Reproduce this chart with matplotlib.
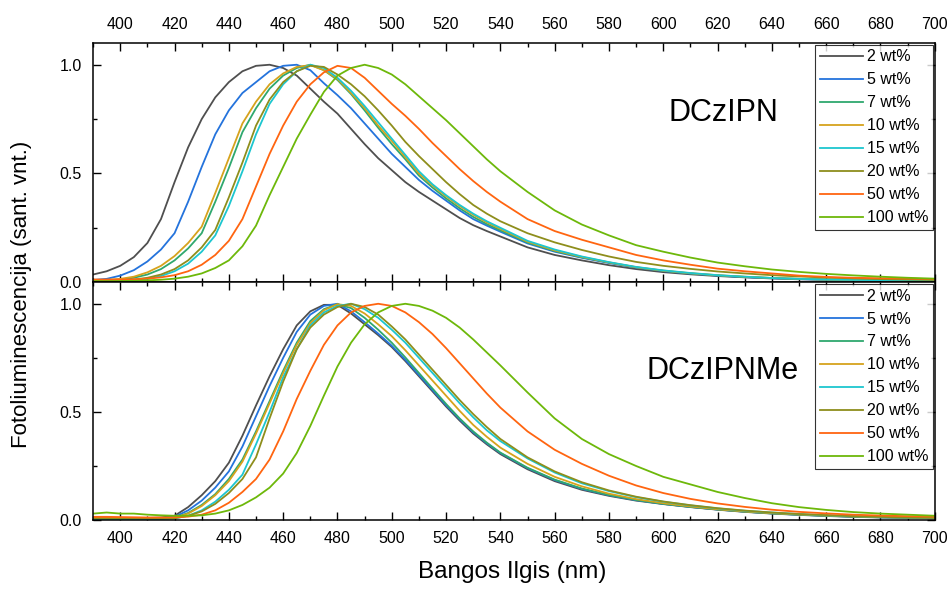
import matplotlib
matplotlib.use("Agg")
import matplotlib.pyplot as plt
from matplotlib.ticker import MultipleLocator, FormatStrFormatter

plt.rcParams["font.family"] = ["Liberation Sans", "DejaVu Sans"]

# wavelength grid (nm): 5 nm steps up to 540, then 10 nm
wl = list(range(390, 541, 5)) + list(range(550, 701, 10))

labels = ["2 wt%", "5 wt%", "7 wt%", "10 wt%", "15 wt%", "20 wt%", "50 wt%", "100 wt%"]
colors = ["#4f4f4f", "#2473dc", "#2fa86e", "#d6a21c", "#1cc6cf", "#8e8e1c", "#ff6510", "#6db80a"]

# DCzIPN (top panel)
dczipn_2 = [0.035, 0.05, 0.075, 0.115, 0.18, 0.29, 0.46, 0.62, 0.75, 0.85, 0.92, 0.97, 0.995, 1.0, 0.985,
            0.95, 0.89, 0.83, 0.775, 0.705, 0.635, 0.57, 0.515, 0.46, 0.415, 0.375, 0.335, 0.295, 0.262,
            0.235, 0.21, 0.16, 0.125, 0.1, 0.078, 0.06, 0.046, 0.036, 0.028, 0.022, 0.017, 0.013, 0.011,
            0.009, 0.008, 0.007, 0.006]
dczipn_5 = [0.01, 0.015, 0.03, 0.055, 0.095, 0.15, 0.225, 0.37, 0.53, 0.68, 0.79, 0.87, 0.92, 0.97, 0.995,
            1.0, 0.975, 0.915, 0.86, 0.80, 0.73, 0.66, 0.59, 0.53, 0.47, 0.42, 0.375, 0.33, 0.29, 0.26,
            0.232, 0.178, 0.14, 0.112, 0.088, 0.067, 0.051, 0.039, 0.03, 0.023, 0.018, 0.014, 0.011,
            0.01, 0.009, 0.008, 0.007]
dczipn_7 = [0.008, 0.009, 0.012, 0.02, 0.035, 0.06, 0.10, 0.155, 0.225, 0.37, 0.525, 0.69, 0.80, 0.89,
            0.95, 0.985, 1.0, 0.975, 0.93, 0.865, 0.79, 0.71, 0.635, 0.565, 0.49, 0.435, 0.385, 0.34, 0.30,
            0.267, 0.238, 0.182, 0.143, 0.114, 0.09, 0.068, 0.052, 0.04, 0.031, 0.024, 0.019, 0.015,
            0.012, 0.01, 0.009, 0.008, 0.007]
dczipn_10 = [0.01, 0.01, 0.015, 0.025, 0.045, 0.075, 0.12, 0.18, 0.255, 0.41, 0.57, 0.73, 0.83, 0.91,
             0.96, 0.99, 0.998, 0.975, 0.935, 0.87, 0.80, 0.72, 0.65, 0.575, 0.50, 0.445, 0.395, 0.35,
             0.31, 0.275, 0.245, 0.186, 0.146, 0.116, 0.091, 0.069, 0.053, 0.041, 0.032, 0.025, 0.019,
             0.015, 0.012, 0.01, 0.009, 0.008, 0.007]
dczipn_15 = [0.003, 0.004, 0.006, 0.009, 0.015, 0.028, 0.05, 0.085, 0.14, 0.215, 0.35, 0.51, 0.68, 0.82,
             0.91, 0.97, 1.0, 0.985, 0.94, 0.88, 0.81, 0.735, 0.66, 0.585, 0.51, 0.45, 0.40, 0.355, 0.315,
             0.28, 0.25, 0.19, 0.15, 0.118, 0.092, 0.07, 0.054, 0.042, 0.032, 0.025, 0.019, 0.015, 0.012,
             0.01, 0.009, 0.008, 0.007]
dczipn_20 = [0.005, 0.006, 0.008, 0.012, 0.02, 0.035, 0.06, 0.10, 0.16, 0.24, 0.39, 0.55, 0.72, 0.84,
             0.92, 0.97, 0.995, 0.99, 0.955, 0.91, 0.855, 0.79, 0.72, 0.645, 0.58, 0.52, 0.46, 0.405,
             0.355, 0.315, 0.28, 0.225, 0.183, 0.148, 0.118, 0.093, 0.075, 0.061, 0.049, 0.04, 0.032,
             0.026, 0.021, 0.017, 0.014, 0.012, 0.01]
dczipn_50 = [0.012, 0.012, 0.012, 0.013, 0.016, 0.022, 0.032, 0.05, 0.08, 0.125, 0.19, 0.29, 0.44, 0.59,
             0.72, 0.83, 0.91, 0.965, 0.995, 0.985, 0.94, 0.88, 0.82, 0.765, 0.705, 0.64, 0.58, 0.52,
             0.465, 0.415, 0.37, 0.29, 0.235, 0.195, 0.16, 0.125, 0.10, 0.08, 0.062, 0.05, 0.04, 0.03,
             0.024, 0.02, 0.018, 0.016, 0.014]
dczipn_100 = [0.004, 0.004, 0.005, 0.006, 0.008, 0.011, 0.016, 0.025, 0.04, 0.065, 0.10, 0.165, 0.26,
              0.40, 0.53, 0.66, 0.77, 0.875, 0.95, 0.985, 1.0, 0.985, 0.955, 0.91, 0.855, 0.80, 0.745,
              0.685, 0.625, 0.565, 0.51, 0.415, 0.33, 0.265, 0.215, 0.17, 0.14, 0.113, 0.09, 0.073,
              0.058, 0.047, 0.038, 0.031, 0.025, 0.02, 0.016]

# DCzIPNMe (bottom panel)
dczipnme_2 = [0.01, 0.01, 0.01, 0.01, 0.01, 0.012, 0.02, 0.06, 0.115, 0.18, 0.265, 0.39, 0.53, 0.665,
              0.79, 0.9, 0.965, 0.995, 0.995, 0.955, 0.905, 0.855, 0.80, 0.735, 0.665, 0.595, 0.525,
              0.46, 0.40, 0.35, 0.305, 0.235, 0.18, 0.14, 0.112, 0.09, 0.074, 0.06, 0.048, 0.038, 0.03,
              0.024, 0.019, 0.015, 0.012, 0.011, 0.01]
dczipnme_5 = [0.008, 0.008, 0.008, 0.008, 0.008, 0.009, 0.015, 0.045, 0.09, 0.15, 0.225, 0.34, 0.48,
              0.62, 0.75, 0.87, 0.95, 0.99, 1.0, 0.965, 0.915, 0.862, 0.806, 0.741, 0.671, 0.601, 0.531,
              0.466, 0.406, 0.355, 0.31, 0.24, 0.185, 0.144, 0.115, 0.092, 0.075, 0.061, 0.049, 0.039,
              0.031, 0.025, 0.02, 0.016, 0.013, 0.011, 0.01]
dczipnme_7 = [0.006, 0.006, 0.006, 0.006, 0.006, 0.007, 0.011, 0.033, 0.07, 0.12, 0.19, 0.28, 0.41,
              0.55, 0.69, 0.82, 0.92, 0.975, 0.998, 0.98, 0.935, 0.88, 0.82, 0.752, 0.68, 0.608, 0.537,
              0.47, 0.41, 0.358, 0.312, 0.242, 0.187, 0.146, 0.116, 0.093, 0.075, 0.061, 0.049, 0.039,
              0.031, 0.025, 0.02, 0.016, 0.013, 0.011, 0.01]
dczipnme_10 = [0.01, 0.01, 0.01, 0.01, 0.01, 0.01, 0.01, 0.03, 0.065, 0.115, 0.18, 0.27, 0.40, 0.54,
               0.68, 0.81, 0.91, 0.97, 0.998, 0.99, 0.955, 0.905, 0.85, 0.785, 0.715, 0.645, 0.575,
               0.505, 0.44, 0.385, 0.335, 0.26, 0.2, 0.156, 0.122, 0.097, 0.078, 0.063, 0.05, 0.04,
               0.032, 0.026, 0.021, 0.017, 0.014, 0.012, 0.01]
dczipnme_15 = [0.004, 0.004, 0.004, 0.004, 0.004, 0.005, 0.008, 0.02, 0.045, 0.085, 0.14, 0.21, 0.35,
               0.50, 0.66, 0.79, 0.9, 0.96, 0.99, 1.0, 0.975, 0.935, 0.88, 0.82, 0.75, 0.68, 0.61, 0.54,
               0.475, 0.415, 0.365, 0.285, 0.22, 0.17, 0.134, 0.106, 0.085, 0.068, 0.054, 0.043, 0.035,
               0.028, 0.022, 0.018, 0.015, 0.012, 0.01]
dczipnme_20 = [0.008, 0.008, 0.008, 0.008, 0.008, 0.008, 0.008, 0.02, 0.04, 0.075, 0.125, 0.19, 0.29,
               0.47, 0.64, 0.79, 0.89, 0.95, 0.985, 1.0, 0.985, 0.95, 0.895, 0.835, 0.765, 0.695, 0.625,
               0.555, 0.49, 0.43, 0.375, 0.29, 0.225, 0.175, 0.137, 0.108, 0.086, 0.069, 0.055, 0.044,
               0.035, 0.028, 0.023, 0.018, 0.015, 0.012, 0.01]
dczipnme_50 = [0.015, 0.015, 0.014, 0.013, 0.012, 0.012, 0.013, 0.016, 0.025, 0.045, 0.08, 0.13, 0.19,
               0.28, 0.41, 0.56, 0.69, 0.81, 0.9, 0.96, 0.99, 1.0, 0.99, 0.96, 0.915, 0.86, 0.795,
               0.725, 0.655, 0.585, 0.52, 0.41, 0.325, 0.26, 0.205, 0.16, 0.125, 0.098, 0.077, 0.061,
               0.048, 0.038, 0.031, 0.025, 0.021, 0.018, 0.016]
dczipnme_100 = [0.03, 0.035, 0.03, 0.03, 0.025, 0.022, 0.02, 0.02, 0.022, 0.03, 0.045, 0.07, 0.105, 0.15,
                0.215, 0.31, 0.435, 0.575, 0.71, 0.82, 0.905, 0.96, 0.99, 1.0, 0.99, 0.968, 0.935, 0.89,
                0.835, 0.775, 0.715, 0.59, 0.47, 0.375, 0.305, 0.25, 0.2, 0.165, 0.13, 0.102, 0.078, 0.06,
                0.047, 0.037, 0.03, 0.025, 0.02]

top_series = [dczipn_2, dczipn_5, dczipn_7, dczipn_10, dczipn_15, dczipn_20, dczipn_50, dczipn_100]
bot_series = [dczipnme_2, dczipnme_5, dczipnme_7, dczipnme_10, dczipnme_15, dczipnme_20, dczipnme_50,
              dczipnme_100]

fig = plt.figure(figsize=(9.5, 5.89), dpi=100)
ax1 = fig.add_axes([0.098, 0.521, 0.886, 0.406])
ax2 = fig.add_axes([0.098, 0.117, 0.886, 0.404])

for ax, series, name, ty in ((ax1, top_series, "DCzIPN", 0.78), (ax2, bot_series, "DCzIPNMe", 0.69)):
    for ys, c, lab in zip(series, colors, labels):
        ax.plot(wl, ys, color=c, lw=1.3, label=lab)
    ax.set_xlim(390, 700)
    ax.set_ylim(0, 1.1)
    ax.xaxis.set_major_locator(MultipleLocator(20))
    ax.xaxis.set_minor_locator(MultipleLocator(10))
    ax.set_yticks([0, 0.5, 1.0])
    ax.yaxis.set_minor_locator(MultipleLocator(0.25))
    ax.yaxis.set_major_formatter(FormatStrFormatter("%.1f"))
    ax.tick_params(which="both", direction="in", top=True, bottom=True, left=True, right=True,
                   labelsize=11.5, width=1, pad=8)
    ax.tick_params(which="major", length=6)
    ax.tick_params(which="minor", length=3)
    for s in ax.spines.values():
        s.set_linewidth(1.1)
    ax.text(622, ty, name, fontsize=22, ha="center", va="center")
    leg = ax.legend(loc="upper right", fontsize=11.5, frameon=True, fancybox=False, handlelength=2.7,
                    borderaxespad=0.1, labelspacing=0.5, handletextpad=0.25, borderpad=0.3)
    leg.get_frame().set_edgecolor("black")
    leg.get_frame().set_linewidth(0.8)

ax1.tick_params(labeltop=True, labelbottom=False)
ax2.tick_params(labeltop=False, labelbottom=True)

fig.text(0.539, 0.029, "Bangos Ilgis (nm)", fontsize=17.5, ha="center", va="center")
fig.text(0.023, 0.50, "Fotoliuminescencija (sant. vnt.)", rotation=90, fontsize=16,
         ha="center", va="center")

fig.savefig("out.png", dpi=100)
